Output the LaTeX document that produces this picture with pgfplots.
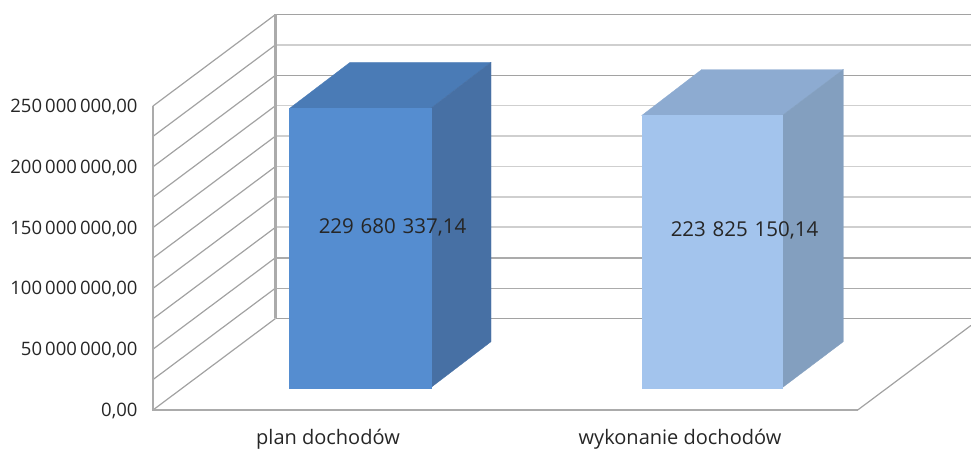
\documentclass[border=0pt]{standalone}
\usepackage{pgfplots}
\pgfplotsset{compat=1.18}
\usepackage{fontspec}
\setmainfont{Open Sans}
\definecolor{gD}{HTML}{A2A2A2}
\definecolor{gL}{HTML}{CFCFCF}
\definecolor{gW}{HTML}{ABABAB}
\definecolor{aF}{HTML}{558DD0}
\definecolor{aT}{HTML}{4A7BB6}
\definecolor{aS}{HTML}{4770A4}
\definecolor{bF}{HTML}{A3C4ED}
\definecolor{bT}{HTML}{8DABD1}
\definecolor{bS}{HTML}{839FBF}
\definecolor{txt}{HTML}{262626}
\newcommand\dsp{\hspace{0.33em}}
\begin{document}
\begin{tikzpicture}
\useasboundingbox (-153pt,-40pt) rectangle (818pt,410pt);
\begin{axis}[
  scale only axis, width=818pt, height=395.2pt,
  xmin=153, xmax=971, ymin=0, ymax=325000000,
  clip=false,
  axis line style={draw=none},
  major tick length=0pt,
  xtick={328,680},
  xticklabels={plan dochodów,wykonanie dochodów},
  xticklabel style={font=\fontsize{20}{21}\selectfont, text=txt, inner sep=0pt, yshift=-29.5pt, anchor=center},
  ytick={0,50000000,100000000,150000000,200000000,250000000},
  scaled y ticks=false,
  yticklabel style={
    font=\fontsize{18.5}{20}\selectfont, text=txt, anchor=east, xshift=-12pt, yshift=-1pt,
    /pgf/number format/.cd, fixed, fixed zerofill, precision=2, 1000 sep={\,}, dec sep={,}, assume math mode=true},
]
% back wall gridlines
\addplot[gD, line width=1.1pt, yshift=91.5pt, forget plot] coordinates {(275.5,250000000)(971,250000000)};
\addplot[gL, line width=2pt, yshift=91.5pt, forget plot] coordinates {(275.5,225000000)(971,225000000)};
\addplot[gD, line width=1.3pt, yshift=91.5pt, forget plot] coordinates {(275.5,200000000)(971,200000000)};
\addplot[gL, line width=1.6pt, yshift=91.5pt, forget plot] coordinates {(275.5,175000000)(971,175000000)};
\addplot[gL, line width=1.8pt, yshift=91.5pt, forget plot] coordinates {(275.5,150000000)(971,150000000)};
\addplot[gL, line width=1.6pt, yshift=91.5pt, forget plot] coordinates {(275.5,125000000)(971,125000000)};
\addplot[gL, line width=2pt, yshift=91.5pt, forget plot] coordinates {(275.5,100000000)(971,100000000)};
\addplot[gL, line width=1.8pt, yshift=91.5pt, forget plot] coordinates {(275.5,75000000)(971,75000000)};
\addplot[gW, line width=1.6pt, yshift=91.5pt, forget plot] coordinates {(275.5,50000000)(971,50000000)};
\addplot[gW, line width=1.2pt, yshift=91.5pt, forget plot] coordinates {(275.5,25000000)(971,25000000)};
\addplot[gD, line width=1.2pt, yshift=91.5pt, forget plot] coordinates {(275.5,0)(971,0)};
% side wall gridlines
\addplot[gD, line width=1.2pt, forget plot] coordinates {(153,250000000)(275.5,325250000)};
\addplot[gD, line width=1.2pt, forget plot] coordinates {(153,225000000)(275.5,300250000)};
\addplot[gD, line width=1.2pt, forget plot] coordinates {(153,200000000)(275.5,275250000)};
\addplot[gD, line width=1.2pt, forget plot] coordinates {(153,175000000)(275.5,250250000)};
\addplot[gD, line width=1.2pt, forget plot] coordinates {(153,150000000)(275.5,225250000)};
\addplot[gD, line width=1.2pt, forget plot] coordinates {(153,125000000)(275.5,200250000)};
\addplot[gD, line width=1.2pt, forget plot] coordinates {(153,100000000)(275.5,175250000)};
\addplot[gD, line width=1.2pt, forget plot] coordinates {(153,75000000)(275.5,150250000)};
\addplot[gD, line width=1.2pt, forget plot] coordinates {(153,50000000)(275.5,125250000)};
\addplot[gD, line width=1.2pt, forget plot] coordinates {(153,25000000)(275.5,100250000)};
\addplot[gD, line width=1.2pt, forget plot] coordinates {(153,0)(275.5,75250000)};
% walls and floor
\addplot[gW, line width=1.3pt, forget plot] coordinates {(153,0)(153,250000000)};
\addplot[gW, line width=2.2pt, forget plot] coordinates {(275.5,75250000)(275.5,325250000)};
\addplot[gW, line width=1.8pt, forget plot] coordinates {(152,0)(857.7,0)};
\addplot[gD, line width=1.2pt, forget plot] coordinates {(857.7,0)(971,69570000)};
% bar 1
\addplot[fill=aT, draw=aT, line width=0.3pt, yshift=22.3pt, forget plot] coordinates {(289.5,229680337.14)(430.7,229680337.14)(491,267510337.14)(350,267510337.14)} --cycle;
\addplot[fill=aS, draw=aS, line width=0.3pt, yshift=22.3pt, forget plot] coordinates {(430.7,0)(491,37830000)(491,267510337.14)(430.7,229680337.14)} --cycle;
\addplot[fill=aF, draw=aF, line width=0.3pt, yshift=22.3pt, forget plot] coordinates {(289.5,0)(430.7,0)(430.7,229680337.14)(289.5,229680337.14)} --cycle;
% bar 2
\addplot[fill=bT, draw=bT, line width=0.3pt, yshift=22.3pt, forget plot] coordinates {(641.7,223825150.14)(782.3,223825150.14)(843.3,261655150.14)(701.7,261655150.14)} --cycle;
\addplot[fill=bS, draw=bS, line width=0.3pt, yshift=22.3pt, forget plot] coordinates {(782.3,0)(843.3,37830000)(843.3,261655150.14)(782.3,223825150.14)} --cycle;
\addplot[fill=bF, draw=bF, line width=0.3pt, yshift=22.3pt, forget plot] coordinates {(641.7,0)(782.3,0)(782.3,223825150.14)(641.7,223825150.14)} --cycle;
% data labels
\addplot[draw=none, forget plot, nodes near coords, point meta=explicit symbolic,
  nodes near coords style={anchor=center, text=txt, font=\fontsize{20.5}{22}\selectfont}]
  coordinates {(392.5,150500000)[229\dsp680\dsp337,14] (744.5,148000000)[223\dsp825\dsp150,14]};
\end{axis}
\end{tikzpicture}
\end{document}
